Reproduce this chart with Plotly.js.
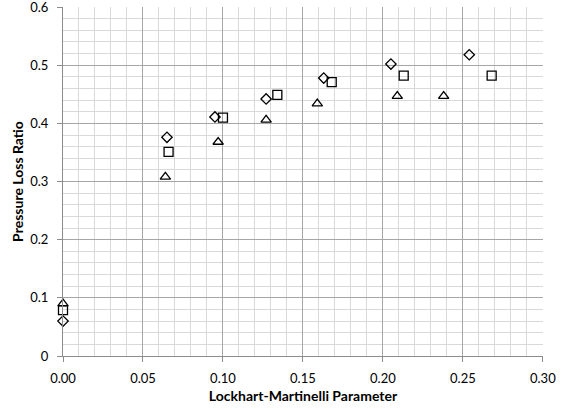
<!DOCTYPE html>
<html>
<head>
<meta charset="utf-8">
<script src="https://cdn.plot.ly/plotly-3.0.1.min.js"></script>
<style>html,body{margin:0;padding:0;background:#fff;}#chart{width:566px;height:410px;}</style>
</head>
<body>
<div id="chart"></div>
<script>
const diamondX = [0.000, 0.065, 0.095, 0.127, 0.163, 0.205, 0.254];
const diamondY = [0.060, 0.376, 0.411, 0.442, 0.478, 0.502, 0.518];
const squareX = [0.000, 0.066, 0.100, 0.134, 0.168, 0.213, 0.268];
const squareY = [0.079, 0.351, 0.410, 0.449, 0.471, 0.482, 0.482];
const triangleX = [0.000, 0.064, 0.097, 0.127, 0.159, 0.209, 0.238];
const triangleY = [0.090, 0.308, 0.368, 0.406, 0.434, 0.447, 0.447];
const xTicks = [0, 0.05, 0.10, 0.15, 0.20, 0.25, 0.30];
const xTickLabels = ['0.00', '0.05', '0.10', '0.15', '0.20', '0.25', '0.30'];
const yTicks = [0, 0.1, 0.2, 0.3, 0.4, 0.5, 0.6];
const yTickLabels = ['0', '0.1', '0.2', '0.3', '0.4', '0.5', '0.6'];

const mk = (sym, size) => ({symbol: sym, size: size, color: '#000', line: {color: '#000', width: 1.3}});
const data = [
  {x: diamondX, y: diamondY, mode: 'markers', type: 'scatter', name: 'Diamond', marker: mk('diamond-open', 8), cliponaxis: false},
  {x: squareX, y: squareY, mode: 'markers', type: 'scatter', name: 'Square', marker: mk('square-open', 9), cliponaxis: false},
  {x: triangleX, y: triangleY, mode: 'markers', type: 'scatter', name: 'Triangle', marker: mk('triangle-up-open', 9), cliponaxis: false}
];
const fam = 'Lato, "Liberation Sans", sans-serif';
const layout = {
  width: 566, height: 410,
  margin: {l: 63, r: 23, t: 7, b: 54},
  paper_bgcolor: '#fff', plot_bgcolor: '#fff',
  showlegend: false,
  font: {family: fam, size: 13, color: '#000'},
  xaxis: {
    range: [0, 0.3001], tickvals: xTicks, ticktext: xTickLabels,
    showgrid: true, gridcolor: '#a6a6a6', gridwidth: 1,
    minor: {dtick: 0.01, showgrid: true, gridcolor: '#d9d9d9', gridwidth: 1},
    showline: true, linecolor: '#8c8c8c', linewidth: 1,
    ticks: 'outside', ticklen: 5, tickcolor: '#8c8c8c',
    ticklabelstandoff: 5, ticklabeloverflow: 'allow',
    zeroline: false,
    tickfont: {family: fam, size: 13, color: '#000'},
    title: {text: 'Lockhart-Martinelli Parameter', font: {family: fam, size: 14, color: '#000', weight: 'bold'}, standoff: 6}
  },
  yaxis: {
    range: [0, 0.6001], tickvals: yTicks, ticktext: yTickLabels,
    showgrid: true, gridcolor: '#a6a6a6', gridwidth: 1,
    minor: {dtick: 0.02, showgrid: true, gridcolor: '#d9d9d9', gridwidth: 1},
    showline: true, linecolor: '#8c8c8c', linewidth: 1,
    ticks: 'outside', ticklen: 5, tickcolor: '#8c8c8c',
    ticklabelstandoff: 6, ticklabeloverflow: 'allow',
    zeroline: false,
    tickfont: {family: fam, size: 13, color: '#000'},
    title: {text: 'Pressure Loss Ratio', font: {family: fam, size: 14, color: '#000', weight: 'bold'}, standoff: 3}
  }
};
Plotly.newPlot('chart', data, layout, {displayModeBar: false, staticPlot: true});
</script>
</body>
</html>
